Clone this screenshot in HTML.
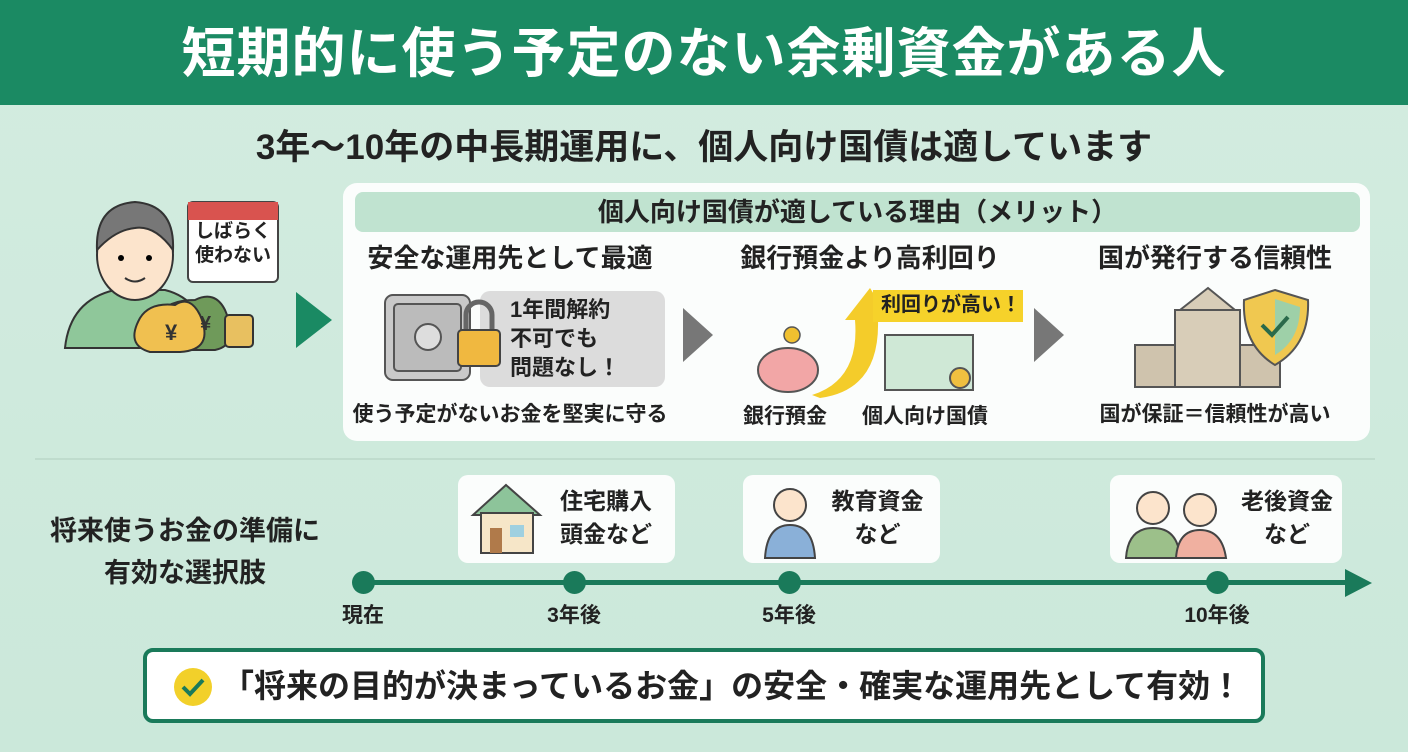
<!DOCTYPE html>
<html><head><meta charset="utf-8"><style>
*{margin:0;padding:0;box-sizing:border-box}
body{width:1408px;height:752px;overflow:hidden;background:linear-gradient(180deg,#d3ece0,#cbe8da);font-family:"Liberation Sans","Noto Sans CJK JP",sans-serif;position:relative;color:#222}
.a{position:absolute}
.b{font-weight:bold}
.c{text-align:center}
</style></head><body>
<div class="a" style="left:0;top:0;width:1408px;height:105px;background:#1b8a63"></div>
<div class="a b c" style="left:0;top:22px;width:1408px;font-size:54px;color:#fff;line-height:64px;letter-spacing:1px">短期的に使う予定のない余剰資金がある人</div>
<div class="a b c" style="left:0;top:124px;width:1408px;font-size:35px;line-height:48px">3年〜10年の中長期運用に、個人向け国債は適しています</div>

<!-- person -->
<svg class="a" style="left:55px;top:190px" width="240" height="170">
<path d="M10 158 Q15 110 60 100 L110 100 Q150 110 150 158 Z" fill="#8fc79a" stroke="#333" stroke-width="2"/>
<ellipse cx="80" cy="65" rx="38" ry="45" fill="#fce4cc" stroke="#333" stroke-width="2"/>
<path d="M42 60 Q40 15 80 12 Q120 15 118 60 Q100 35 80 38 Q60 40 42 60Z" fill="#777" stroke="#333" stroke-width="2"/>
<circle cx="66" cy="68" r="3"/><circle cx="94" cy="68" r="3"/>
<path d="M70 88 Q80 95 90 88" stroke="#333" stroke-width="2" fill="none"/>
<rect x="133" y="12" width="90" height="80" rx="5" fill="#fff" stroke="#444" stroke-width="2"/>
<rect x="133" y="12" width="90" height="18" fill="#d9534f"/>
<path d="M140 110 Q160 100 170 120 Q185 155 160 160 L115 160 Q90 155 105 125 Q112 110 140 110Z" fill="#6f9a5a" stroke="#333" stroke-width="2"/>
<path d="M120 115 Q135 105 145 125 Q160 160 125 162 L95 162 Q70 155 85 128 Q95 112 120 115Z" fill="#f0c050" stroke="#333" stroke-width="2"/>
<text x="110" y="150" font-size="22" font-weight="bold" fill="#333">¥</text>
<text x="145" y="140" font-size="20" font-weight="bold" fill="#333">¥</text>
<rect x="170" y="125" width="28" height="32" rx="4" fill="#e8c060" stroke="#333" stroke-width="2"/>
</svg>
<div class="a b c" style="left:188px;top:220px;width:90px;font-size:19px;line-height:24px">しばらく<br>使わない</div>
<svg class="a" style="left:296px;top:292px" width="40" height="56"><polygon points="0,0 36,28 0,56" fill="#1a8a63"/></svg>

<!-- card -->
<div class="a" style="left:343px;top:183px;width:1027px;height:258px;background:#fbfdfc;border-radius:14px"></div>
<div class="a b c" style="left:355px;top:192px;width:1005px;height:40px;background:#c0e3d0;border-radius:8px;font-size:26px;line-height:40px">個人向け国債が適している理由（メリット）</div>
<div class="a b c" style="left:345px;top:241px;width:330px;font-size:26px;line-height:34px">安全な運用先として最適</div>
<div class="a b c" style="left:705px;top:241px;width:330px;font-size:26px;line-height:34px">銀行預金より高利回り</div>
<div class="a b c" style="left:1050px;top:241px;width:330px;font-size:26px;line-height:34px">国が発行する信頼性</div>

<svg class="a" style="left:380px;top:285px" width="290" height="110">
<rect x="100" y="6" width="185" height="96" rx="10" fill="#dcdcdc"/>
<rect x="5" y="10" width="85" height="85" rx="8" fill="#c9c9c9" stroke="#555" stroke-width="2"/>
<rect x="14" y="19" width="67" height="67" rx="4" fill="#bbb" stroke="#555" stroke-width="2"/>
<circle cx="48" cy="52" r="13" fill="#ddd" stroke="#555" stroke-width="2"/>
<path d="M86 45 v-15 a13 13 0 0 1 26 0 v15" stroke="#666" stroke-width="5" fill="none"/>
<rect x="78" y="45" width="42" height="36" rx="4" fill="#f0b840" stroke="#444" stroke-width="2"/>
</svg>
<div class="a b" style="left:510px;top:295px;font-size:22px;line-height:29px">1年間解約<br>不可でも<br>問題なし！</div>
<div class="a b c" style="left:345px;top:400px;width:330px;font-size:21px;line-height:30px">使う予定がないお金を堅実に守る</div>

<svg class="a" style="left:683px;top:308px" width="32" height="54"><polygon points="0,0 30,27 0,54" fill="#777"/></svg>
<svg class="a" style="left:1034px;top:308px" width="32" height="54"><polygon points="0,0 30,27 0,54" fill="#777"/></svg>

<svg class="a" style="left:750px;top:280px" width="280" height="120">
<path d="M62 115 Q110 100 105 40 L95 40 L120 8 L140 40 L128 40 Q130 110 70 118Z" fill="#f4cc2a"/>
<ellipse cx="38" cy="90" rx="30" ry="22" fill="#f2a6a6" stroke="#555" stroke-width="2"/>
<circle cx="42" cy="55" r="8" fill="#f0c030" stroke="#555" stroke-width="1.5"/>
<rect x="123" y="10" width="150" height="32" fill="#f6d22a"/>
<rect x="135" y="55" width="88" height="55" fill="#cfe8d6" stroke="#555" stroke-width="2"/>
<circle cx="210" cy="98" r="10" fill="#f0c040" stroke="#555" stroke-width="2"/>
</svg>
<div class="a b" style="left:881px;top:291px;font-size:20px;line-height:28px">利回りが高い！</div>
<div class="a b" style="left:743px;top:402px;font-size:21px;line-height:30px">銀行預金</div>
<div class="a b" style="left:862px;top:402px;font-size:21px;line-height:30px">個人向け国債</div>

<svg class="a" style="left:1130px;top:285px" width="200" height="105">
<rect x="5" y="60" width="145" height="42" fill="#cfc3ad" stroke="#555" stroke-width="2"/>
<rect x="45" y="25" width="65" height="77" fill="#d8cdb8" stroke="#555" stroke-width="2"/>
<polygon points="50,25 78,3 105,25" fill="#d8cdb8" stroke="#555" stroke-width="2"/>
<path d="M145 5 L178 15 Q180 60 145 80 Q112 60 114 15Z" fill="#f0c850" stroke="#555" stroke-width="2"/>
<path d="M145 14 L170 22 Q170 55 145 70Z" fill="#9ed0a8"/>
<path d="M132 40 l10 10 l16 -18" stroke="#2a6a4a" stroke-width="4" fill="none"/>
</svg>
<div class="a b c" style="left:1050px;top:400px;width:330px;font-size:21px;line-height:30px">国が保証＝信頼性が高い</div>

<div class="a" style="left:35px;top:458px;width:1340px;height:2px;background:#bfdccd"></div>

<div class="a b c" style="left:20px;top:510px;width:330px;font-size:27px;line-height:42px">将来使うお金の準備に<br>有効な選択肢</div>

<div class="a" style="left:458px;top:475px;width:217px;height:88px;background:#fbfdfc;border-radius:10px"></div>
<div class="a" style="left:743px;top:475px;width:197px;height:88px;background:#fbfdfc;border-radius:10px"></div>
<div class="a" style="left:1110px;top:475px;width:232px;height:88px;background:#fbfdfc;border-radius:10px"></div>
<svg class="a" style="left:468px;top:480px" width="80" height="80"><polygon points="5,35 38,5 72,35" fill="#8dc49a" stroke="#444" stroke-width="2"/><rect x="13" y="33" width="52" height="40" fill="#f6e6c8" stroke="#444" stroke-width="2"/><rect x="22" y="48" width="12" height="25" fill="#b07a4a"/><rect x="42" y="45" width="14" height="12" fill="#9fd0e0"/></svg>
<div class="a b" style="left:560px;top:485px;font-size:23px;line-height:33px">住宅購入<br>頭金など</div>
<svg class="a" style="left:755px;top:480px" width="70" height="80"><circle cx="35" cy="25" r="16" fill="#fce4cc" stroke="#444" stroke-width="2"/><path d="M10 78 Q12 45 35 45 Q58 45 60 78Z" fill="#8ab0d8" stroke="#444" stroke-width="2"/></svg>
<div class="a b c" style="left:820px;top:485px;width:115px;font-size:23px;line-height:33px">教育資金<br>など</div>
<svg class="a" style="left:1118px;top:480px" width="115" height="80"><circle cx="35" cy="28" r="16" fill="#fce4cc" stroke="#444" stroke-width="2"/><path d="M8 78 Q10 48 35 48 Q60 48 62 78Z" fill="#9cc08a" stroke="#444" stroke-width="2"/><circle cx="82" cy="30" r="16" fill="#fce4cc" stroke="#444" stroke-width="2"/><path d="M58 78 Q60 50 82 50 Q104 50 108 78Z" fill="#f0b0a0" stroke="#444" stroke-width="2"/></svg>
<div class="a b c" style="left:1232px;top:485px;width:110px;font-size:23px;line-height:33px">老後資金<br>など</div>

<div class="a" style="left:362px;top:580px;width:990px;height:5px;background:#1a7a5a"></div>
<svg class="a" style="left:1345px;top:569px" width="30" height="28"><polygon points="0,0 27,14 0,28" fill="#1a7a5a"/></svg>
<div class="a" style="left:352px;top:571px;width:23px;height:23px;border-radius:50%;background:#1a7a5a"></div>
<div class="a" style="left:563px;top:571px;width:23px;height:23px;border-radius:50%;background:#1a7a5a"></div>
<div class="a" style="left:778px;top:571px;width:23px;height:23px;border-radius:50%;background:#1a7a5a"></div>
<div class="a" style="left:1206px;top:571px;width:23px;height:23px;border-radius:50%;background:#1a7a5a"></div>
<div class="a b c" style="left:313px;top:601px;width:100px;font-size:21px;line-height:30px">現在</div>
<div class="a b c" style="left:524px;top:601px;width:100px;font-size:21px;line-height:30px">3年後</div>
<div class="a b c" style="left:739px;top:601px;width:100px;font-size:21px;line-height:30px">5年後</div>
<div class="a b c" style="left:1167px;top:601px;width:100px;font-size:21px;line-height:30px">10年後</div>

<div class="a" style="left:143px;top:648px;width:1122px;height:75px;background:#fff;border:4px solid #1a7a5a;border-radius:10px"></div>
<svg class="a" style="left:172px;top:666px" width="42" height="42"><circle cx="21" cy="21" r="19" fill="#f2d02a"/><path d="M11 21 l7 7 l13 -14" stroke="#1a7a5a" stroke-width="4" fill="none"/></svg>
<div class="a b" style="left:222px;top:664px;font-size:32px;line-height:44px;white-space:nowrap">「将来の目的が決まっているお金」の安全・確実な運用先として有効！</div>
</body></html>
